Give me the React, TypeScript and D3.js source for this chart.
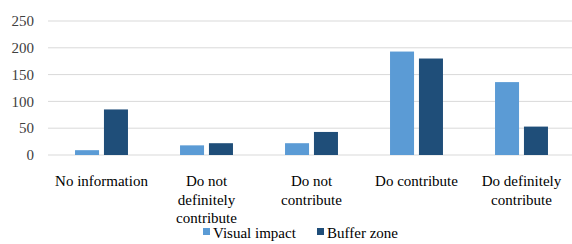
import React, { useEffect, useRef } from 'react';
import * as d3 from 'd3';

const WIDTH = 572;
const HEIGHT = 244;
const MARGIN = { top: 21, right: 0, bottom: 89, left: 48 };

const categories = [
  'No information',
  'Do not definitely contribute',
  'Do not contribute',
  'Do contribute',
  'Do definitely contribute',
];
const categoryLines = [
  ['No information'],
  ['Do not', 'definitely', 'contribute'],
  ['Do not', 'contribute'],
  ['Do contribute'],
  ['Do definitely', 'contribute'],
];
const seriesNames = ['Visual impact', 'Buffer zone'];
const visualImpact = [9, 18, 22, 193, 136];
const bufferZone = [85, 22, 43, 180, 53];
const yTicks = [0, 50, 100, 150, 200, 250];

const COLORS = ['#5b9bd5', '#1f4e79'];
const FONT = 'Liberation Serif';

export default function App() {
  const ref = useRef<SVGSVGElement>(null);

  useEffect(() => {
    if (!ref.current) return;
    const svg = d3.select(ref.current);
    svg.selectAll('*').remove();

    const x = d3
      .scaleBand()
      .domain(categories)
      .range([MARGIN.left + 1, WIDTH + 2])
      .paddingInner(0)
      .paddingOuter(0);

    const inner = d3
      .scaleBand()
      .domain(seriesNames)
      .range([0, x.bandwidth()])
      .paddingInner(0.17)
      .paddingOuter(0.9);

    const y = d3
      .scaleLinear()
      .domain([0, 250])
      .range([HEIGHT - MARGIN.bottom, MARGIN.top]);

    // gridlines
    svg
      .append('g')
      .selectAll('line')
      .data(yTicks)
      .enter()
      .append('line')
      .attr('x1', MARGIN.left)
      .attr('x2', WIDTH)
      .attr('y1', (d) => y(d))
      .attr('y2', (d) => y(d))
      .attr('stroke', '#d9d9d9')
      .attr('stroke-width', 1);

    // y labels
    svg
      .append('g')
      .selectAll('text')
      .data(yTicks)
      .enter()
      .append('text')
      .attr('x', 34)
      .attr('y', (d) => y(d))
      .attr('dy', '0.35em')
      .attr('text-anchor', 'end')
      .attr('font-family', FONT)
      .attr('font-size', 15)
      .attr('fill', '#404040')
      .text((d) => d.toString());

    // bars
    const rows = categories.map((c, i) => ({
      category: c,
      values: [visualImpact[i], bufferZone[i]],
    }));

    const groups = svg
      .append('g')
      .selectAll('g')
      .data(rows)
      .enter()
      .append('g')
      .attr('transform', (d) => `translate(${x(d.category)}, 0)`);

    groups
      .selectAll('rect')
      .data((d) => d.values.map((v, j) => ({ name: seriesNames[j], value: v, j })))
      .enter()
      .append('rect')
      .attr('x', (d) => inner(d.name)!)
      .attr('width', inner.bandwidth())
      .attr('y', (d) => y(d.value))
      .attr('height', (d) => y(0) - y(d.value))
      .attr('fill', (d) => COLORS[d.j]);

    // category labels
    const labels = svg
      .append('g')
      .selectAll('text')
      .data(categories)
      .enter()
      .append('text')
      .attr('x', (d) => x(d)! + x.bandwidth() / 2)
      .attr('y', 186)
      .attr('text-anchor', 'middle')
      .attr('font-family', FONT)
      .attr('font-size', 15)
      .attr('fill', '#000');

    labels
      .selectAll('tspan')
      .data((d, i) => categoryLines[i])
      .enter()
      .append('tspan')
      .attr('x', function () {
        return (this as SVGTSpanElement).parentElement!.getAttribute('x');
      })
      .attr('dy', (d, i) => (i === 0 ? 0 : 18.5))
      .text((d) => d);

    // legend
    const legend = svg.append('g');
    const legendX = [203, 317];
    seriesNames.forEach((name, i) => {
      legend
        .append('rect')
        .attr('x', legendX[i])
        .attr('y', 228)
        .attr('width', 7)
        .attr('height', 7)
        .attr('fill', COLORS[i]);
      legend
        .append('text')
        .attr('x', legendX[i] + 10)
        .attr('y', 238)
        .attr('font-family', FONT)
        .attr('font-size', 15)
        .attr('fill', '#000')
        .text(name);
    });
  }, []);

  return (
    <svg
      ref={ref}
      width={WIDTH}
      height={HEIGHT}
      style={{ position: 'absolute', left: 0, top: 0, background: '#fff' }}
    />
  );
}
